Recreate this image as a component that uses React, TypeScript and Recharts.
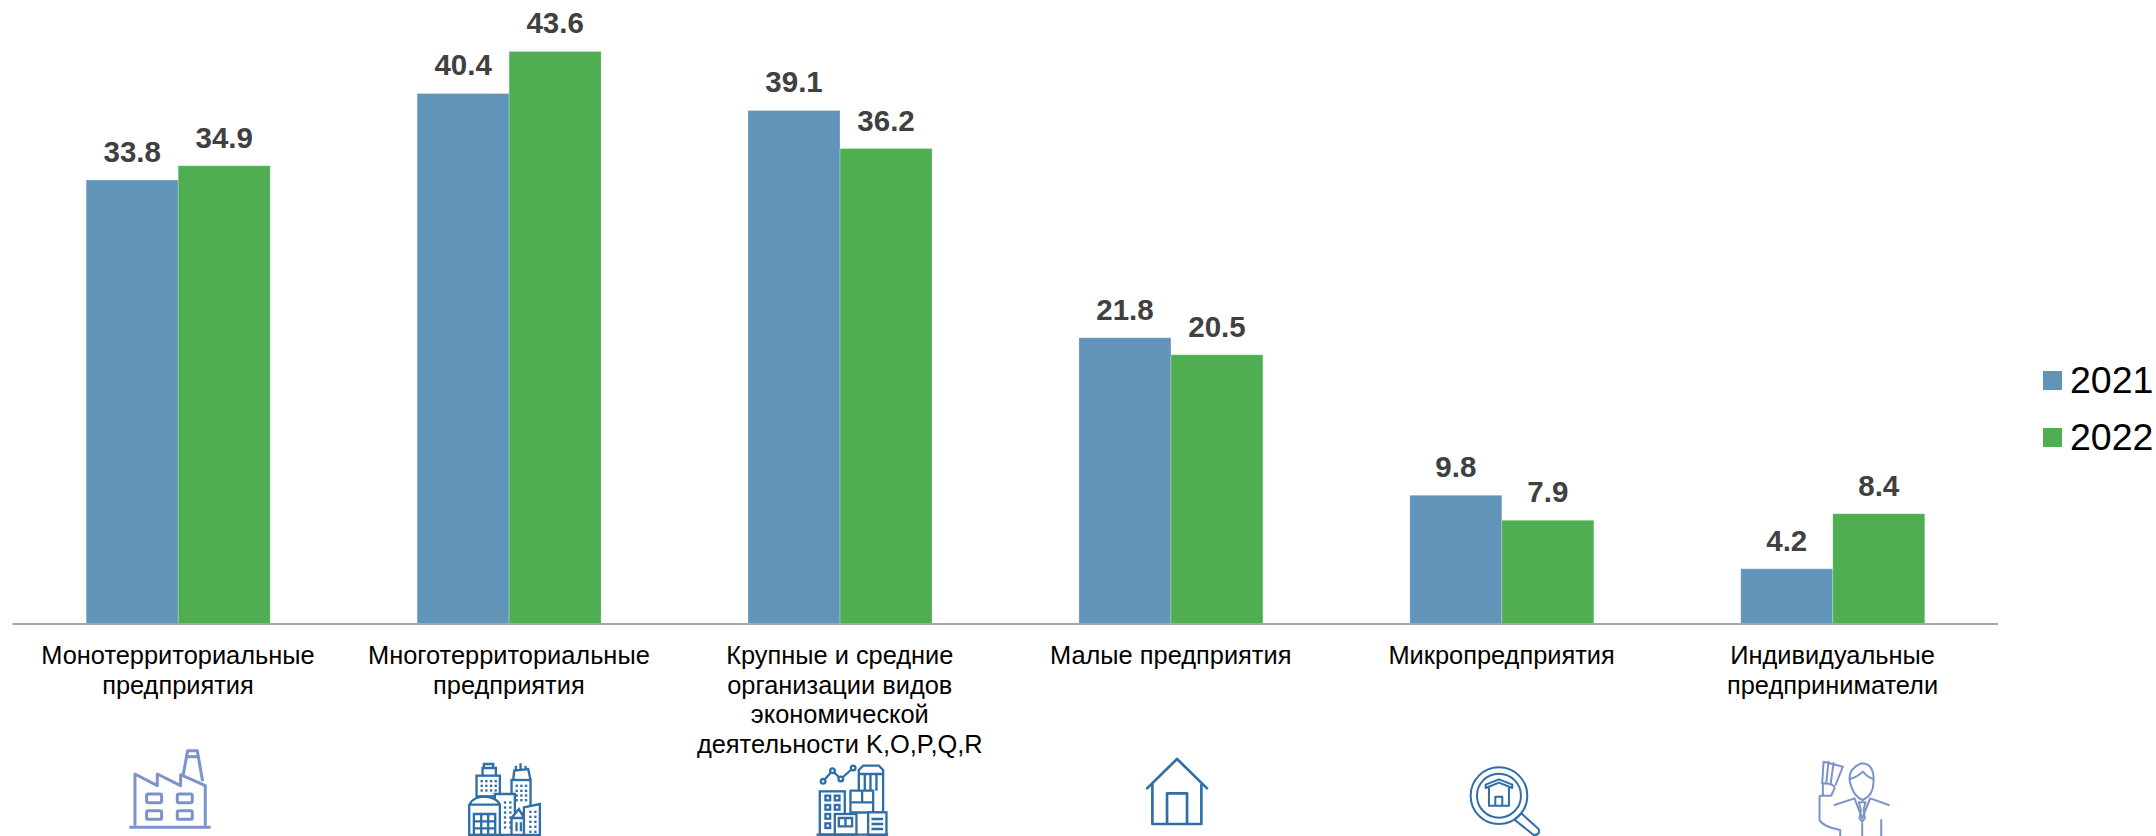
import React from 'react'
import { BarChart, Bar, XAxis, YAxis, Legend, LabelList } from 'recharts'

const categoryLines = [
  ['Монотерриториальные', 'предприятия'],
  ['Многотерриториальные', 'предприятия'],
  ['Крупные и средние', 'организации видов', 'экономической', 'деятельности K,O,P,Q,R'],
  ['Малые предприятия'],
  ['Микропредприятия'],
  ['Индивидуальные', 'предприниматели'],
]
const categories = categoryLines.map((l) => l.join(' '))
const values2021 = [33.8, 40.4, 39.1, 21.8, 9.8, 4.2]
const values2022 = [34.9, 43.6, 36.2, 20.5, 7.9, 8.4]

const BLUE = '#6094B8'
const GREEN = '#50AE52'
const ICON_DARK = '#2F6EA8'
const ICON_LIGHT = '#7C93C9'

const data = categories.map((name, i) => ({ name, y2021: values2021[i], y2022: values2022[i] }))

// icons are traced at 3x, hence the scale(1/3) in CategoryTick
function Dots({ xs, ys, size = 7 }: { xs: number[]; ys: number[]; size?: number }) {
  return (
    <g fill={ICON_DARK} stroke="none">
      {xs.flatMap((x) => ys.map((y) => <rect key={`${x}-${y}`} x={x} y={y} width={size} height={size} />))}
    </g>
  )
}

function Factory() {
  return (
    <g stroke={ICON_LIGHT} strokeWidth={9} fill="none" strokeLinejoin="round">
      <path d="M45 245 V90 L112 125 V90 L182 125 V92 L256 125 V245" />
      <path d="M190 92 L203 20 H232 L248 112" />
      <path d="M199 38 H236" />
      <rect x={80} y={150} width={45} height={26} rx={5} />
      <rect x={172} y={150} width={45} height={26} rx={5} />
      <rect x={80} y={200} width={45} height={26} rx={5} />
      <rect x={172} y={200} width={45} height={26} rx={5} />
      <path d="M28 250 H272" />
    </g>
  )
}

function City() {
  return (
    <g stroke={ICON_DARK} strokeWidth={7} fill="#fff">
      <path d="M68 95 V72 H108 V95 M72 72 V60 H100 V72" />
      <rect x={50} y={95} width={70} height={62} />
      <Dots xs={[62, 76, 90, 104]} ys={[108, 122, 136]} />
      <path d="M160 108 L163 80 L205 75 L212 108 M168 78 V65 M182 75 V58 M197 75 V66" />
      <rect x={155} y={108} width={57} height={100} />
      <Dots xs={[167, 181, 195]} ys={[122, 137, 151, 165]} />
      <path d="M105 150 H165 V273 H105 Z" />
      <Dots xs={[132, 148]} ys={[172, 187, 202, 217, 232, 247]} />
      <path d="M28 273 V182 Q40 158 75 158 Q110 160 120 182 V273 Z M28 182 H120" />
      <path d="M42 210 H106 V273 H42 Z M64 210 V273 M85 210 V273 M42 232 H106 M42 253 H106" fill="none" />
      <path d="M192 190 L240 180 V273 H192 Z" />
      <Dots xs={[208, 223]} ys={[200, 215, 230, 245, 260]} />
      <path d="M155 273 V222 L177 195 L192 222 V273 Z M155 222 H192 M170 235 V262 M183 235 V262" />
    </g>
  )
}

function Analytics() {
  return (
    <g stroke={ICON_DARK} strokeWidth={7} fill="#fff">
      <polyline points="55,82 83,50 108,75 145,42" fill="none" />
      <circle cx={55} cy={82} r={7} />
      <circle cx={83} cy={50} r={7} />
      <circle cx={108} cy={75} r={7} />
      <circle cx={145} cy={42} r={7} />
      <path d="M162 110 V48 L175 35 H222 L235 48 V175 H162 Z M162 60 H235" />
      <path d="M180 60 V110 M197 60 V110 M215 60 V110" />
      <path d="M137 110 H205 V175 H137 Z M172 110 V145 M137 145 H205" />
      <rect x={45} y={112} width={75} height={130} />
      <rect x={62} y={125} width={14} height={14} />
      <rect x={90} y={125} width={14} height={14} />
      <rect x={62} y={153} width={14} height={14} />
      <rect x={90} y={153} width={14} height={14} />
      <rect x={62} y={180} width={14} height={14} />
      <rect x={62} y={208} width={14} height={14} />
      <rect x={90} y={180} width={65} height={62} />
      <path d="M102 192 H142 V217 H102 Z M122 192 V217" />
      <rect x={190} y={175} width={55} height={68} />
      <path d="M200 195 H235 M200 210 H235 M200 225 H235" />
      <path d="M35 242 H250" />
    </g>
  )
}

function House() {
  return (
    <g stroke={ICON_DARK} strokeWidth={8} fill="none" strokeLinejoin="round" strokeLinecap="round">
      <path d="M52 118 L142 30 L232 118" />
      <path d="M68 108 V225 H215 V108" />
      <path d="M112 225 V133 H172 V225" />
    </g>
  )
}

function Magnifier() {
  return (
    <g stroke={ICON_DARK} strokeWidth={6} fill="none" strokeLinejoin="round">
      <circle cx={118} cy={125} r={85} />
      <circle cx={118} cy={125} r={66} />
      <path d="M78 102 V92 L118 76 L158 92 V102 L118 86 Z" />
      <path d="M88 100 V155 H148 V100" />
      <path d="M107 155 V128 H128 V155" />
      <path d="M165 197 L185 178 L237 225 Q243 243 222 243 Z" />
    </g>
  )
}

function Person() {
  return (
    <g stroke={ICON_LIGHT} strokeWidth={6} fill="none" strokeLinejoin="round" strokeLinecap="round">
      <path d="M150 75 Q148 40 185 25 Q225 25 222 80 Q222 120 190 135 Q160 125 150 75 Z" />
      <path d="M152 72 Q175 65 190 50 Q205 68 222 72" />
      <path d="M105 150 L165 130 L188 190 L212 130 L268 150" />
      <path d="M178 142 H198 L192 165 L196 190 L188 200 L180 190 L184 165 Z" />
      <path d="M60 125 V195 Q70 215 122 225 V243" />
      <path d="M62 122 H95 L105 100 Q105 85 70 85 V118" />
      <path d="M68 85 L72 20 L130 35 L108 90 M80 85 L87 20 M93 88 L102 24" />
      <path d="M188 205 V243 M245 195 V243" />
    </g>
  )
}

const icons = [
  { Icon: Factory, dx: -58, dy: 120 },
  { Icon: City, dx: -49, dy: 120 },
  { Icon: Analytics, dx: -35, dy: 130 },
  { Icon: House, dx: -41, dy: 125 },
  { Icon: Magnifier, dx: -42, dy: 130 },
  { Icon: Person, dx: -33, dy: 131 },
]

function CategoryTick({ x, y, payload, index }: any) {
  const lines = categoryLines[payload?.index ?? index] ?? []
  const { Icon, dx, dy } = icons[payload?.index ?? index]
  return (
    <g>
      <text x={x} y={y + 40} textAnchor="middle" fontSize={25.4} fill="#000" fontFamily="Liberation Sans">
        {lines.map((line, i) => (
          <tspan key={i} x={x} y={y + 40 + i * 29.5}>{line}</tspan>
        ))}
      </text>
      <g transform={`translate(${x + dx} ${y + dy}) scale(${1 / 3})`}>
        <Icon />
      </g>
    </g>
  )
}

function YearLegend({ payload }: any) {
  return (
    <div style={{ fontFamily: 'Liberation Sans', fontSize: 37.5, color: '#000' }}>
      {(payload ?? []).map((p: any) => (
        <div key={p.value} style={{ display: 'flex', alignItems: 'center', height: 57 }}>
          <span style={{ width: 19, height: 19, background: p.color, marginRight: 8 }} />
          <span>{p.value}</span>
        </div>
      ))}
    </div>
  )
}

const labelStyle = { fontFamily: 'Liberation Sans', fontSize: 29.5, fontWeight: 700, fill: '#404040' }

export default function App() {
  return (
    <div style={{ position: 'absolute', left: 0, top: 0, width: 2156, height: 836, background: '#fff' }}>
      <BarChart
        width={2156}
        height={836}
        data={data}
        margin={{ top: 33, right: 158, bottom: 0, left: 12.5 }}
        barCategoryGap="22.27%"
        barGap={0}
      >
        <XAxis
          dataKey="name"
          height={212}
          interval={0}
          tickSize={0}
          tickMargin={0}
          tickLine={false}
          axisLine={{ stroke: '#A6A6A6', strokeWidth: 2 }}
          tick={<CategoryTick />}
        />
        <YAxis hide domain={[0, 45]} />
        <Legend
          layout="vertical"
          align="center"
          verticalAlign="middle"
          content={<YearLegend />}
          wrapperStyle={{ left: 2043, top: 352, width: 113 }}
        />
        <Bar dataKey="y2021" name="2021" fill={BLUE} stroke="#fff" strokeWidth={0.25} isAnimationActive={false}>
          <LabelList dataKey="y2021" position="top" offset={18} style={labelStyle} />
        </Bar>
        <Bar dataKey="y2022" name="2022" fill={GREEN} stroke="#fff" strokeWidth={0.25} isAnimationActive={false}>
          <LabelList dataKey="y2022" position="top" offset={18} style={labelStyle} />
        </Bar>
      </BarChart>
    </div>
  )
}
